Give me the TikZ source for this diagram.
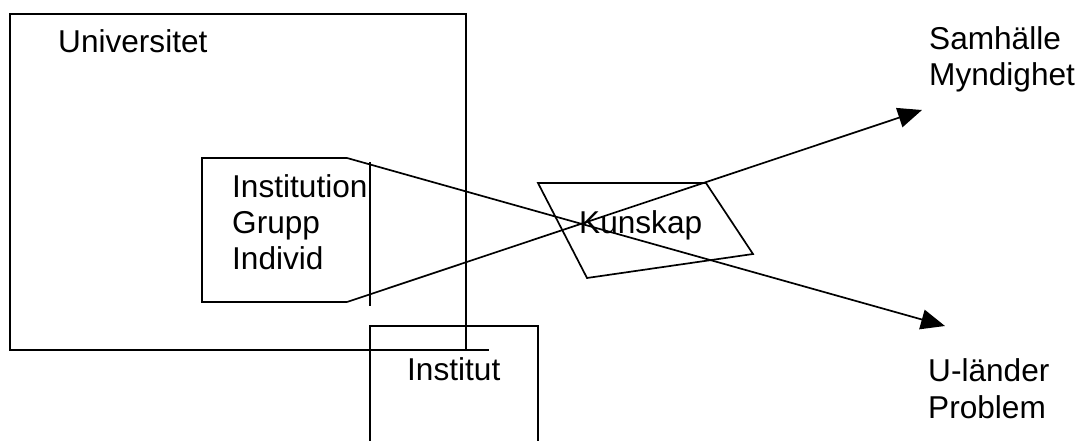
\documentclass[tikz,border=0pt]{standalone}
\usepackage{fontspec}
\setmainfont{Liberation Sans}
\usetikzlibrary{arrows.meta}
\begin{document}
\begin{tikzpicture}[x=1pt,y=-1pt,
  ln/.style={line width=1.7pt,line join=miter},
  arr/.style={line width=1.7pt,-{Triangle[length=24pt,width=20pt]}},
  lbl/.style={anchor=base west,inner sep=0pt,font=\fontsize{31.6}{36}\selectfont}]
\useasboundingbox (0,0) rectangle (1079,441);
% Universitet box
\coordinate (u1) at (10,14);
\coordinate (u2) at (466,14);
\coordinate (u3) at (466,350);
\coordinate (u4) at (489,350);
\coordinate (u5) at (10,350);
\draw[ln] (u3) -- (u2) -- (u1) -- (u5) -- (u4);
% Institut box
\coordinate (i1) at (370,441);
\coordinate (i2) at (370,326);
\coordinate (i3) at (538,326);
\coordinate (i4) at (538,441);
\draw[ln] (i1) -- (i2) -- (i3) -- (i4);
% Institution shape
\coordinate (t1) at (347,158);
\coordinate (t2) at (202,158);
\coordinate (t3) at (202,302);
\coordinate (t4) at (347,302);
\draw[ln] (t1) -- (t2) -- (t3) -- (t4);
\coordinate (v1) at (370,162);
\coordinate (v2) at (370,306);
\draw[ln] (v1) -- (v2);
% Kunskap quadrilateral
\coordinate (k1) at (538,183);
\coordinate (k2) at (706,183);
\coordinate (k3) at (753,254);
\coordinate (k4) at (587,278);
\draw[ln] (k1) -- (k2) -- (k3) -- (k4) -- cycle;
% arrow tips
\coordinate (sam) at (922,110);
\coordinate (ul) at (945,326);
\draw[arr] (t4) -- (sam);
\draw[arr] (t1) -- (ul);
% labels
\node[lbl] (univ) at (58,53) {Universitet};
\node[lbl] (inst1) at (232,197) {Institution};
\node[lbl] (inst2) at (232,233) {Grupp};
\node[lbl] (inst3) at (232,269) {Individ};
\node[lbl] (kun) at (579,233) {Kunskap};
\node[lbl] (instut) at (407,380) {Institut};
\node[lbl] (samh) at (929,50) {Samhälle};
\node[lbl] (mynd) at (929,86) {Myndighet};
\node[lbl] (ulnd) at (928,381) {U-länder};
\node[lbl] (prob) at (928,418) {Problem};
\end{tikzpicture}
\end{document}
